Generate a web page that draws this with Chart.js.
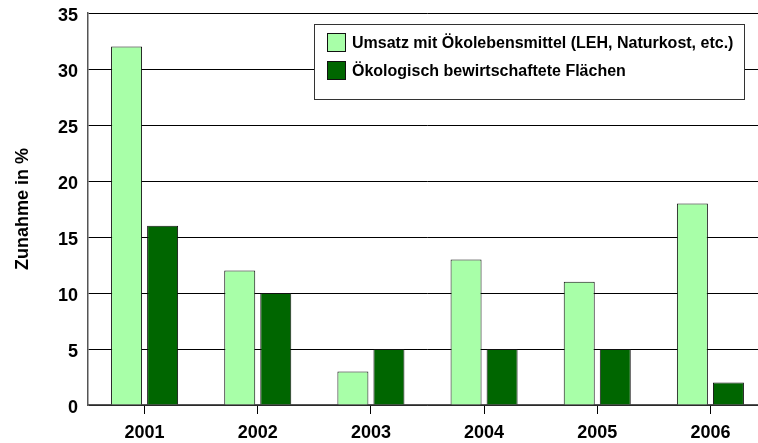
<!DOCTYPE html>
<html>
<head>
<meta charset="utf-8">
<script src="https://cdn.jsdelivr.net/npm/chart.js@4.4.1/dist/chart.umd.min.js"></script>
<style>
  html, body { margin: 0; padding: 0; background: #fff; overflow: hidden; }
  #wrap { width: 768px; height: 443px; }
</style>
</head>
<body>
<div id="wrap"><canvas id="chart" width="768" height="443"></canvas></div>
<script>
const YEARS = ["2001", "2002", "2003", "2004", "2005", "2006"];
const UMSATZ = [32, 12, 3, 13, 11, 18];
const FLAECHEN = [16, 10, 5, 5, 5, 2];
const LABELS = [
    "Umsatz mit Ökolebensmittel (LEH, Naturkost, etc.)",
    "Ökologisch bewirtschaftete Flächen",
];
const Y_TICKS = [0, 5, 10, 15, 20, 25, 30, 35];

const COLORS = {
    light: "#A8FFA8",
    dark: "#006600",
    border: "#111111",
    grid: "#000000",
    text: "#000000",
};
const FONT = "'Liberation Sans', Arial, sans-serif";

// boxed legend drawn over the plot, like the original
const boxLegend = {
    id: "boxLegend",
    afterDraw(chart) {
        const ctx = chart.ctx;
        const x = 314, y = 24, w = 430, h = 75;
        ctx.save();
        ctx.fillStyle = "#fff";
        ctx.fillRect(x, y, w, h);
        ctx.strokeStyle = "#333";
        ctx.lineWidth = 1;
        ctx.strokeRect(x + 0.5, y + 0.5, w, h);
        ctx.font = "bold 16px " + FONT;
        ctx.textBaseline = "middle";
        chart.data.datasets.forEach((ds, i) => {
            const cy = 43 + i * 28;
            ctx.fillStyle = ds.backgroundColor;
            ctx.fillRect(327, cy - 10, 19, 19);
            ctx.strokeStyle = COLORS.border;
            ctx.strokeRect(327.5, cy - 9.5, 18, 18);
            ctx.fillStyle = COLORS.text;
            ctx.fillText(ds.label, 352, cy + 1);
        });
        ctx.restore();
    },
};

new Chart(document.getElementById("chart"), {
    type: "bar",
    data: {
        labels: YEARS,
        datasets: [
            {
                label: LABELS[0],
                data: UMSATZ,
                backgroundColor: COLORS.light,
                borderColor: COLORS.border,
                borderWidth: 1,
                categoryPercentage: 0.637,
                barPercentage: 0.86,
            },
            {
                label: LABELS[1],
                data: FLAECHEN,
                backgroundColor: COLORS.dark,
                borderColor: COLORS.border,
                borderWidth: 1,
                categoryPercentage: 0.637,
                barPercentage: 0.86,
            },
        ],
    },
    options: {
        responsive: false,
        animation: false,
        layout: { padding: { top: 13, right: 1, left: 0, bottom: 0 } },
        plugins: {
            legend: { display: false },
            tooltip: { enabled: false },
        },
        scales: {
            x: {
                grid: {
                    offset: false,
                    drawOnChartArea: false,
                    drawTicks: true,
                    tickLength: 9,
                    color: "#000",
                },
                border: { color: "#555", width: 1.5 },
                ticks: {
                    color: COLORS.text,
                    font: { family: FONT, size: 18, weight: "bold" },
                    padding: 8,
                    maxRotation: 0,
                },
                afterFit: (s) => { s.height = 38; },
            },
            y: {
                min: 0,
                max: 35,
                afterBuildTicks: (s) => { s.ticks = Y_TICKS.map((v) => ({ value: v })); },
                grid: { color: COLORS.grid, drawTicks: false },
                border: { color: "#555", width: 1.5 },
                ticks: {
                    color: COLORS.text,
                    font: { family: FONT, size: 18, weight: "bold" },
                    padding: 10,
                    labelOffset: 3,
                },
                title: {
                    display: true,
                    text: "Zunahme in %",
                    color: COLORS.text,
                    font: { family: FONT, size: 18, weight: "bold" },
                    padding: { top: 12, bottom: 0 },
                },
                afterFit: (s) => {
                    s.width = 88;
                    s.paddingTop = 0;
                    s.paddingBottom = 0;
                },
            },
        },
    },
    plugins: [boxLegend],
});
</script>
</body>
</html>
